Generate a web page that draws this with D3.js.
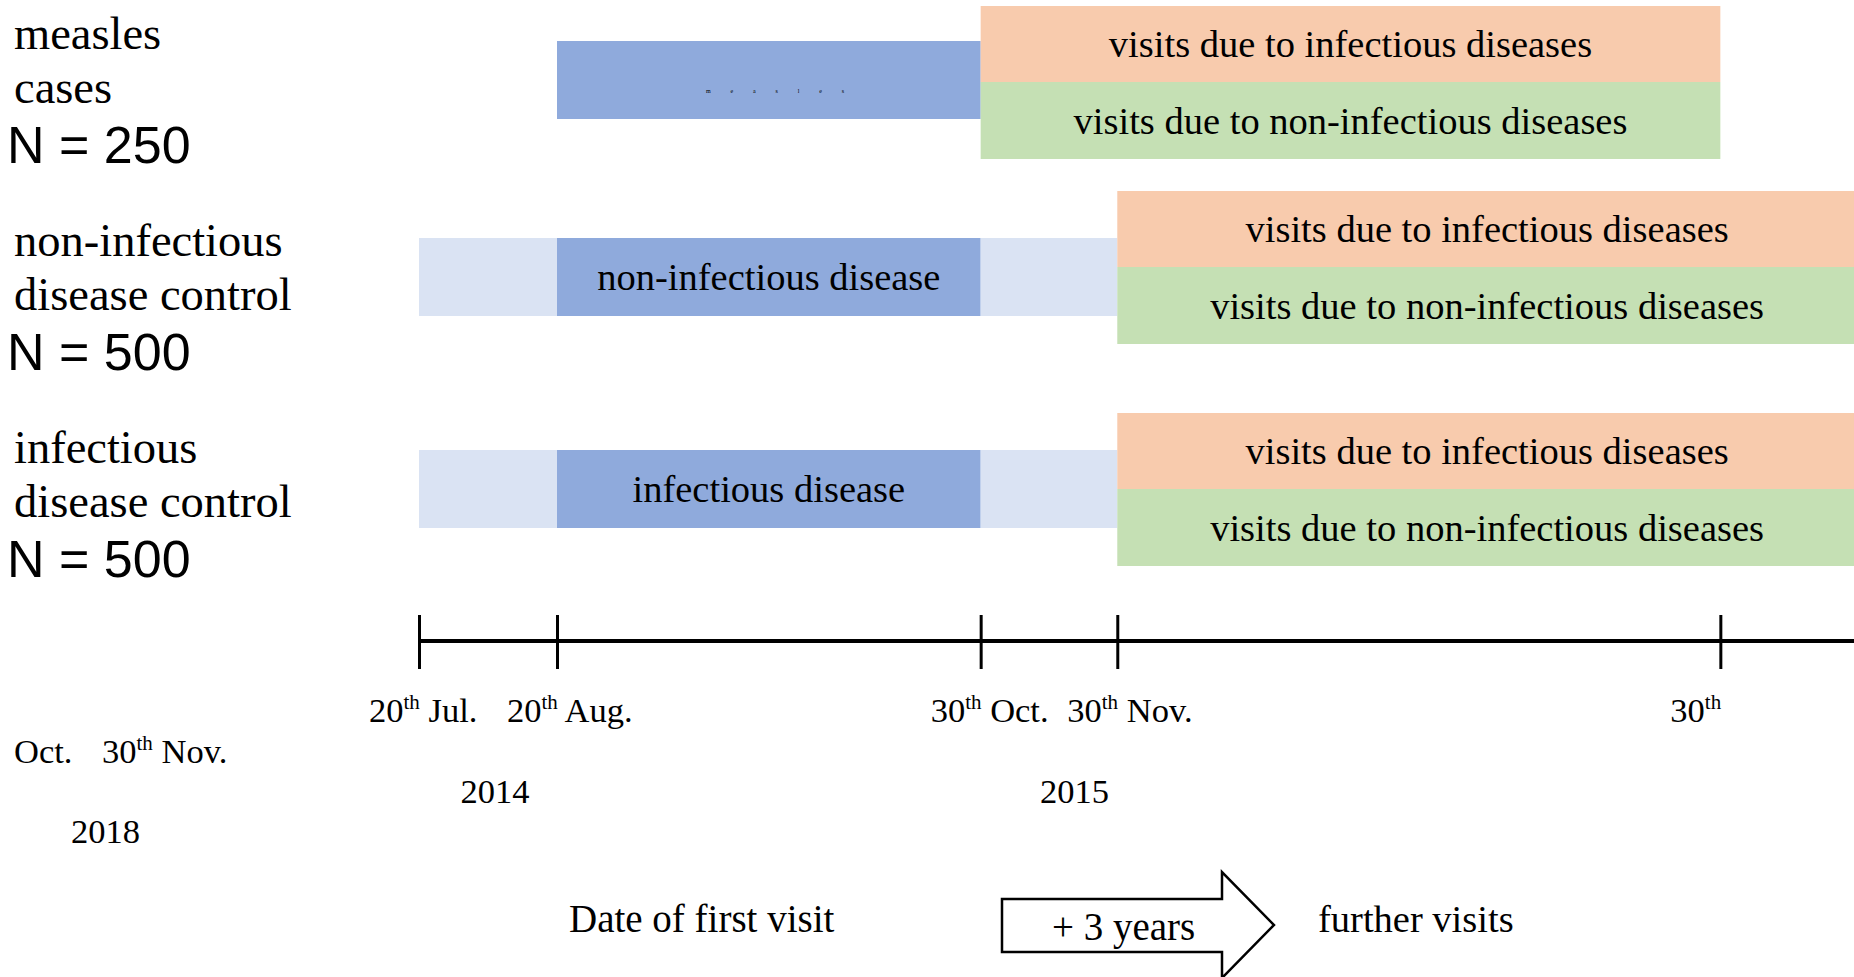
<!DOCTYPE html>
<html>
<head>
<meta charset="utf-8">
<script src="https://cdn.jsdelivr.net/npm/d3@7"></script>
<style>
  html, body { margin: 0; padding: 0; background: #fff; overflow: hidden; }
  svg { display: block; }
  .serif { font-family: 'Liberation Serif', 'Times New Roman', serif; fill: #000; }
  .sans { font-family: 'Liberation Sans', Arial, sans-serif; fill: #000; }
</style>
</head>
<body>
<div id="chart"></div>
<script>
// Study design timeline: first visit window per group, then 3 years of further visits

// groups (rows)
const groupKeys = ['measles', 'nonInfControl', 'infControl'];
const groupLines = [['measles', 'cases'], ['non-infectious', 'disease control'], ['infectious', 'disease control']];
const groupN = [250, 500, 500];

// time axis in schematic units (the drawing is not to scale)
const tickUnits = [0, 1, 4.07, 5.06, 9.43];
const tickDays = ['20', '20', '30', '30', '30'];
const tickMonths = [' Jul.', ' Aug.', ' Oct.', ' Nov.', ''];
const yearLabels = ['2014', '2015'];
const yearUnits = [0.3, 4.5];

// first-visit periods
const periodGroup = [0, 1, 1, 1, 2, 2, 2];
const periodFrom = [1, 0, 1, 4.07, 0, 1, 4.07];
const periodTo = [4.07, 1, 4.07, 5.06, 1, 4.07, 5.06];
const periodKind = ['core', 'window', 'core', 'window', 'window', 'core', 'window'];
const periodText = ['m e a s l e s', '', 'non-infectious disease', '', '', 'infectious disease', ''];

// further visits
const followFrom = [4.07, 5.06, 5.06];
const followTo = [9.43, 10.42, 10.42];
const visitTypes = ['visits due to infectious diseases', 'visits due to non-infectious diseases'];

const kindColors = { core: '#8FAADC', window: '#DAE3F3' };
const visitColors = ['#F8CBAD', '#C5E0B4'];

const width = 1854, height = 977;

const svg = d3.select('#chart').append('svg')
  .attr('width', width)
  .attr('height', height);

svg.append('rect').attr('width', width).attr('height', height).attr('fill', '#fff');

const x = d3.scaleLinear().domain([0, 10]).range([419, 1799]);
// row positions (hand drawn, so not evenly spaced)
const yRow = d3.scaleOrdinal().domain(groupKeys).range([41, 238, 450]);
const yFollow = d3.scaleOrdinal().domain(groupKeys).range([6, 191, 413]);
const yLabel = d3.scalePoint().domain(groupKeys).range([49, 463]);
const barH = 78;
const visitH = [76, 77];

// first-visit bars
const periods = periodGroup.map((g, i) => ({
  key: groupKeys[g], from: periodFrom[i], to: periodTo[i], kind: periodKind[i], text: periodText[i]
}));

const pg = svg.append('g');
pg.selectAll('rect')
  .data(periods)
  .enter().append('rect')
  .attr('x', d => x(d.from))
  .attr('y', d => yRow(d.key))
  .attr('width', d => x(d.to) - x(d.from))
  .attr('height', barH)
  .attr('fill', d => kindColors[d.kind]);

periods.filter(d => d.text && d.key !== 'measles').forEach(d => {
  pg.append('text')
    .attr('class', 'serif')
    .attr('x', (x(d.from) + x(d.to)) / 2)
    .attr('y', yRow(d.key) + barH / 2 + 13)
    .attr('text-anchor', 'middle')
    .attr('font-size', 38.5)
    .text(d.text);
});

// the tiny spaced-out label inside the measles bar
periods.filter(d => d.key === 'measles').forEach(d => {
  pg.append('text')
    .attr('class', 'serif')
    .attr('x', 706)
    .attr('y', yRow(d.key) + 52)
    .attr('font-size', 6)
    .attr('textLength', 138)
    .attr('lengthAdjust', 'spacing')
    .text(d.text);
});

// further visits blocks
const fg = svg.append('g');
groupKeys.forEach((key, gi) => {
  let top = yFollow(key);
  visitTypes.forEach((label, vi) => {
    fg.append('rect')
      .attr('x', x(followFrom[gi]))
      .attr('y', top)
      .attr('width', x(followTo[gi]) - x(followFrom[gi]))
      .attr('height', visitH[vi])
      .attr('fill', visitColors[vi]);
    fg.append('text')
      .attr('class', 'serif')
      .attr('x', (x(followFrom[gi]) + x(followTo[gi])) / 2)
      .attr('y', top + visitH[vi] / 2 + 13)
      .attr('text-anchor', 'middle')
      .attr('font-size', 38.5)
      .text(label);
    top += visitH[vi];
  });
});

// group labels
const lg = svg.append('g');
groupKeys.forEach((key, gi) => {
  groupLines[gi].forEach((line, li) => {
    lg.append('text')
      .attr('class', 'serif')
      .attr('x', 14)
      .attr('y', yLabel(key) + li * 53.5)
      .attr('font-size', 46.5)
      .text(line);
  });
  lg.append('text')
    .attr('class', 'sans')
    .attr('x', 7)
    .attr('y', yLabel(key) + 114)
    .attr('font-size', 52)
    .text('N = ' + groupN[gi]);
});

// time axis
const axisY = 641;
svg.append('line')
  .attr('x1', x(0))
  .attr('x2', width)
  .attr('y1', axisY)
  .attr('y2', axisY)
  .attr('stroke', '#000')
  .attr('stroke-width', 4);

const axis = d3.axisBottom(x)
  .tickValues(tickUnits)
  .tickSize(54)
  .tickFormat('');
const ag = svg.append('g')
  .attr('transform', `translate(0,${axisY - 26})`)
  .call(axis);
ag.select('.domain').remove();
ag.selectAll('.tick line').attr('stroke', '#000').attr('stroke-width', 3);

// tick labels with superscript "th"
function dayLabel(sel, day, month) {
  sel.append('tspan').text(day);
  sel.append('tspan').attr('font-size', 21).attr('dy', -13).text('th');
  if (month) sel.append('tspan').attr('dy', 13).text(month);
}

tickUnits.forEach((t, i) => {
  const tx = svg.append('text')
    .attr('class', 'serif')
    .attr('x', x(t) - 50)
    .attr('y', 722)
    .attr('font-size', 34.5);
  dayLabel(tx, tickDays[i], tickMonths[i]);
});

yearLabels.forEach((yr, i) => {
  svg.append('text')
    .attr('class', 'serif')
    .attr('x', x(yearUnits[i]))
    .attr('y', 803)
    .attr('font-size', 34.5)
    .text(yr);
});

// the last tick label runs off the right edge and wraps to the left margin
const wrap = svg.append('text')
  .attr('class', 'serif')
  .attr('x', 14)
  .attr('y', 763)
  .attr('font-size', 34.5);
wrap.append('tspan').text('Oct.');
const wrap2 = svg.append('text')
  .attr('class', 'serif')
  .attr('x', 102)
  .attr('y', 763)
  .attr('font-size', 34.5);
dayLabel(wrap2, '30', ' Nov.');
svg.append('text')
  .attr('class', 'serif')
  .attr('x', 71)
  .attr('y', 843)
  .attr('font-size', 34.5)
  .text('2018');

// bottom legend: first visit -> +3 years -> further visits
svg.append('text')
  .attr('class', 'serif')
  .attr('x', 569)
  .attr('y', 932)
  .attr('font-size', 39)
  .text('Date of first visit');

const arrowPts = [
  [1002, 899], [1222, 899], [1222, 872], [1274, 925],
  [1222, 978], [1222, 952], [1002, 952]
];
svg.append('path')
  .attr('d', d3.line()(arrowPts) + 'Z')
  .attr('fill', '#fff')
  .attr('stroke', '#000')
  .attr('stroke-width', 2.5)
  .attr('stroke-linejoin', 'miter');

svg.append('text')
  .attr('class', 'serif')
  .attr('x', 1052)
  .attr('y', 940)
  .attr('font-size', 39)
  .text('+ 3 years');

svg.append('text')
  .attr('class', 'serif')
  .attr('x', 1318)
  .attr('y', 932)
  .attr('font-size', 38.5)
  .text('further visits');
</script>
</body>
</html>
